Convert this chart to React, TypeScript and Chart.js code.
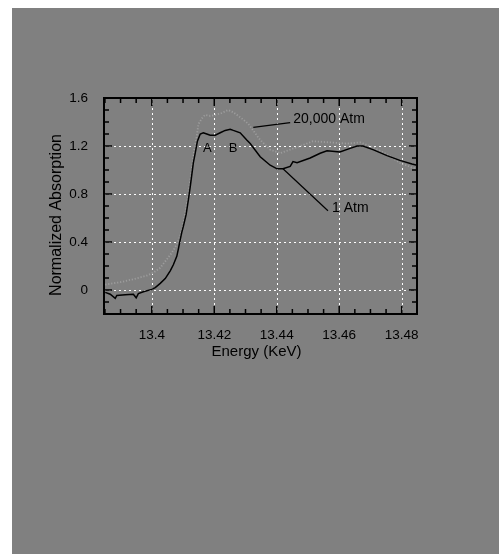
import React, { useEffect, useRef } from "react";
import { Chart, registerables } from "chart.js";

Chart.register(...registerables);

// ---- Data ----
const energy1Atm = [
  13.3851, 13.3867, 13.3883, 13.3888, 13.3915, 13.3941, 13.395, 13.3957, 13.3973, 13.4,
  13.4011, 13.4027, 13.4043, 13.4059, 13.4069, 13.408, 13.4085, 13.4091, 13.4096, 13.4101,
  13.411, 13.4117, 13.4123, 13.4128, 13.4133, 13.4139, 13.4146, 13.4155, 13.4165, 13.4176,
  13.4187, 13.4203, 13.4219, 13.4235, 13.4251, 13.4261, 13.4283, 13.4304, 13.4315, 13.4347,
  13.4379, 13.4401, 13.442, 13.4443, 13.4452, 13.4465, 13.4507, 13.4539, 13.4561, 13.4602,
  13.4635, 13.4657, 13.4676, 13.4708, 13.4753, 13.4794, 13.4833, 13.4849,
];
const absorption1Atm = [
  -0.02, -0.035, -0.07, -0.045, -0.04, -0.035, -0.065, -0.03, -0.015, 0.005,
  0.02, 0.055, 0.095, 0.16, 0.21, 0.28, 0.34, 0.42, 0.48, 0.53,
  0.63, 0.75, 0.86, 0.96, 1.06, 1.14, 1.24, 1.3, 1.31, 1.3,
  1.29, 1.29, 1.31, 1.33, 1.34, 1.33, 1.31, 1.25, 1.22, 1.11,
  1.04, 1.01, 1.01, 1.03, 1.07, 1.06, 1.1, 1.14, 1.16, 1.15,
  1.18, 1.2, 1.2, 1.17, 1.12, 1.08, 1.05, 1.04,
];

const energy20kAtm = [
  13.3851, 13.3899, 13.3941, 13.3984, 13.4005, 13.4027, 13.4048, 13.4064, 13.408, 13.4091,
  13.4099, 13.4107, 13.4114, 13.412, 13.4128, 13.4136, 13.4144, 13.4149, 13.416, 13.4171,
  13.4187, 13.4203, 13.4224, 13.4245, 13.4261, 13.4293, 13.4309, 13.4347, 13.4379, 13.4411,
  13.4465, 13.4516, 13.4571, 13.4625, 13.4667, 13.4708, 13.4753, 13.4794, 13.4833, 13.4849,
];
const absorption20kAtm = [
  0.045, 0.065, 0.09, 0.12, 0.145, 0.185, 0.255, 0.31, 0.38, 0.45,
  0.53, 0.64, 0.75, 0.86, 1.0, 1.17, 1.28, 1.38, 1.43, 1.46,
  1.45, 1.46, 1.475, 1.5, 1.48, 1.42, 1.385, 1.25, 1.17, 1.14,
  1.19, 1.24, 1.23, 1.22, 1.23, 1.19, 1.13, 1.06, 1.02, 1.01,
];

const xTickValues = [13.4, 13.42, 13.44, 13.46, 13.48];
const yTickValues = [0, 0.4, 0.8, 1.2, 1.6];
const xRange = [13.3847, 13.4849];
const yRange = [-0.2, 1.6];
const xMinorStep = 0.005;
const yMinorStep = 0.1;

const xTitle = "Energy (KeV)";
const yTitle = "Normalized Absorption";

const peakLabels = [
  { text: "A", x: 13.4178, y: 1.18 },
  { text: "B", x: 13.426, y: 1.18 },
];
const seriesLabels = [
  { text: "20,000 Atm", x: 13.4453, y: 1.427, fromX: 13.4325, fromY: 1.355, toX: 13.4443, toY: 1.395 },
  { text: "1 Atm", x: 13.4577, y: 0.68, fromX: 13.442, fromY: 1.01, toX: 13.4564, toY: 0.66 },
];

const FONT = "'Liberation Sans', Arial, Helvetica, sans-serif";

const framePlugin = {
  id: "frame",
  beforeDatasetsDraw(chart: any) {
    const { ctx, chartArea: a, scales } = chart;
    const x = scales.x;
    const y = scales.y;
    ctx.save();
    ctx.strokeStyle = "#ffffff";
    ctx.lineWidth = 1;
    ctx.setLineDash([2, 3]);
    for (const v of xTickValues) {
      const px = Math.round(x.getPixelForValue(v)) + 0.5;
      ctx.beginPath();
      ctx.moveTo(px, a.top);
      ctx.lineTo(px, a.bottom);
      ctx.stroke();
    }
    for (const v of yTickValues) {
      const py = Math.round(y.getPixelForValue(v)) + 0.5;
      ctx.beginPath();
      ctx.moveTo(a.left, py);
      ctx.lineTo(a.right, py);
      ctx.stroke();
    }
    ctx.restore();
  },
  afterDatasetsDraw(chart: any) {
    const { ctx, chartArea: a, scales } = chart;
    const x = scales.x;
    const y = scales.y;
    ctx.save();
    ctx.setLineDash([]);
    ctx.strokeStyle = "#000";
    // ticks (inward)
    ctx.lineWidth = 1.5;
    const isMajor = (v: number, list: number[]) => list.some((t) => Math.abs(t - v) < 1e-6);
    const x0 = Math.ceil(x.min / xMinorStep - 1e-6) * xMinorStep;
    for (let v = x0; v <= x.max + 1e-9; v += xMinorStep) {
      const len = isMajor(v, xTickValues) ? 8 : 5;
      const px = x.getPixelForValue(v);
      ctx.beginPath();
      ctx.moveTo(px, a.bottom);
      ctx.lineTo(px, a.bottom - len);
      ctx.moveTo(px, a.top);
      ctx.lineTo(px, a.top + len);
      ctx.stroke();
    }
    const y0 = Math.ceil(y.min / yMinorStep - 1e-6) * yMinorStep;
    for (let v = y0; v <= y.max + 1e-9; v += yMinorStep) {
      const len = isMajor(v, yTickValues) ? 8 : 5;
      const py = y.getPixelForValue(v);
      ctx.beginPath();
      ctx.moveTo(a.left, py);
      ctx.lineTo(a.left + len, py);
      ctx.moveTo(a.right, py);
      ctx.lineTo(a.right - len, py);
      ctx.stroke();
    }
    // box
    ctx.lineWidth = 2;
    ctx.strokeRect(a.left, a.top, a.right - a.left, a.bottom - a.top);

    // annotations
    ctx.fillStyle = "#000";
    ctx.font = `13px ${FONT}`;
    ctx.textAlign = "center";
    ctx.textBaseline = "middle";
    for (const p of peakLabels) {
      ctx.fillText(p.text, x.getPixelForValue(p.x), y.getPixelForValue(p.y));
    }
    ctx.font = `14px ${FONT}`;
    ctx.textAlign = "left";
    ctx.lineWidth = 1.2;
    for (const s of seriesLabels) {
      ctx.beginPath();
      ctx.moveTo(x.getPixelForValue(s.fromX), y.getPixelForValue(s.fromY));
      ctx.lineTo(x.getPixelForValue(s.toX), y.getPixelForValue(s.toY));
      ctx.stroke();
      ctx.fillText(s.text, x.getPixelForValue(s.x), y.getPixelForValue(s.y));
    }

    // axis titles
    ctx.font = `15px ${FONT}`;
    ctx.textAlign = "center";
    ctx.fillText(xTitle, (a.left + a.right) / 2 - 4, a.bottom + 38);
    ctx.font = `16px ${FONT}`;
    ctx.translate(a.left - 47, (a.top + a.bottom) / 2 + 9);
    ctx.rotate(-Math.PI / 2);
    ctx.fillText(yTitle, 0, 0);
    ctx.restore();
  },
};

export default function App() {
  const canvasRef = useRef<HTMLCanvasElement | null>(null);

  useEffect(() => {
    const canvas = canvasRef.current;
    if (!canvas) return;
    const chart = new Chart(canvas, {
      type: "line",
      data: {
        datasets: [
          {
            label: "1 Atm",
            data: energy1Atm.map((e, i) => ({ x: e, y: absorption1Atm[i] })),
            borderColor: "#000000",
            borderWidth: 1.5,
            pointRadius: 0,
            tension: 0,
            fill: false,
          },
          {
            label: "20,000 Atm",
            data: energy20kAtm.map((e, i) => ({ x: e, y: absorption20kAtm[i] })),
            borderColor: "#9c9c9c",
            borderWidth: 1.8,
            borderDash: [1.2, 1.8],
            pointRadius: 0,
            tension: 0,
            fill: false,
          },
        ],
      },
      options: {
        animation: false,
        responsive: false,
        devicePixelRatio: 1,
        layout: { padding: { left: 0, top: 90, right: 82, bottom: 200 } },
        plugins: {
          legend: { display: false },
          tooltip: { enabled: false },
          title: { display: false },
        },
        scales: {
          x: {
            type: "linear",
            min: xRange[0],
            max: xRange[1],
            grid: { display: false, drawTicks: false, tickLength: 0 },
            border: { display: false },
            afterBuildTicks: (scale: any) => {
              scale.ticks = xTickValues.map((v) => ({ value: v }));
            },
            afterFit: (scale: any) => {
              scale.height = 40;
            },
            ticks: {
              autoSkip: false,
              maxRotation: 0,
              padding: 13,
              color: "#000",
              font: { family: FONT, size: 13.5 },
              callback: (v: any) => String(v),
            },
          },
          y: {
            type: "linear",
            min: yRange[0],
            max: yRange[1],
            grid: { display: false, drawTicks: false, tickLength: 0 },
            border: { display: false },
            afterBuildTicks: (scale: any) => {
              scale.ticks = yTickValues.map((v) => ({ value: v }));
            },
            afterFit: (scale: any) => {
              scale.width = 92;
            },
            ticks: {
              autoSkip: false,
              padding: 16,
              color: "#000",
              font: { family: FONT, size: 13.5 },
              callback: (v: any) => String(v),
            },
          },
        },
      },
      plugins: [framePlugin],
    });
    return () => chart.destroy();
  }, []);

  return (
    <div
      style={{
        position: "absolute",
        left: 12,
        top: 8,
        width: 487,
        height: 546,
        background: "#808080",
        overflow: "hidden",
      }}
    >
      <canvas ref={canvasRef} width={487} height={546} style={{ display: "block" }} />
    </div>
  );
}
